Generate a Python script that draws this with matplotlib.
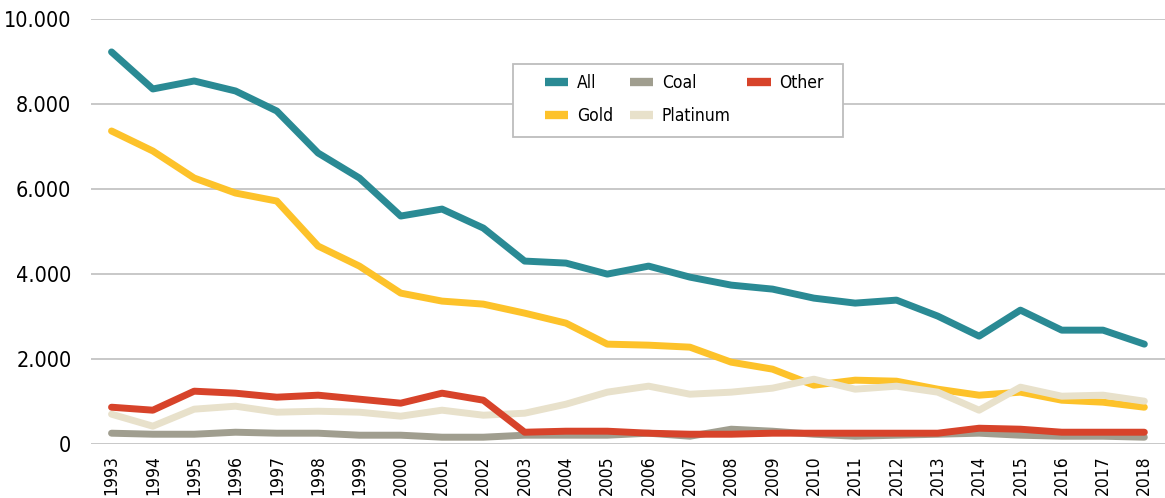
import matplotlib
matplotlib.use('Agg')
import matplotlib.pyplot as plt
from matplotlib.patches import Rectangle
from matplotlib.ticker import FuncFormatter

years = list(range(1993, 2019))

all_mines = [9224, 8353, 8541, 8306, 7835, 6847, 6259, 5365, 5529, 5082,
             4306, 4259, 4000, 4188, 3929, 3741, 3647, 3435, 3318, 3388,
             3012, 2541, 3153, 2682, 2682, 2353]
gold = [7365, 6894, 6259, 5906, 5718, 4659, 4188, 3553, 3365, 3294,
        3082, 2847, 2353, 2329, 2282, 1929, 1765, 1388, 1506, 1482,
        1294, 1153, 1224, 1035, 988, 870]
coal = [259, 235, 235, 282, 259, 259, 212, 212, 165, 165,
        212, 212, 212, 259, 188, 353, 306, 235, 188, 212,
        235, 259, 212, 188, 188, 165]
platinum = [706, 424, 824, 894, 753, 776, 753, 659, 800, 682,
            729, 941, 1224, 1365, 1176, 1224, 1318, 1529, 1294, 1365,
            1224, 800, 1341, 1129, 1153, 1012]
other = [870, 800, 1247, 1200, 1106, 1153, 1059, 965, 1200, 1035,
         282, 306, 306, 259, 235, 235, 259, 259, 259, 259,
         259, 376, 353, 282, 282, 282]

plt.rcParams['font.family'] = ['DejaVu Sans']
plt.rcParams['font.stretch'] = 'condensed'

fig = plt.figure(figsize=(11.65, 4.98), dpi=100)
ax = fig.add_axes([0.078, 0.108, 0.922, 0.854])

x = list(range(len(years)))
lw = 5
h_gold, = ax.plot(x, gold, color='#FDC22A', lw=lw, solid_capstyle='round')
h_coal, = ax.plot(x, coal, color='#A09E8F', lw=lw, solid_capstyle='round')
h_plat, = ax.plot(x, platinum, color='#E8E1CB', lw=lw, solid_capstyle='round')
h_other, = ax.plot(x, other, color='#D7432A', lw=lw, solid_capstyle='round')
h_all, = ax.plot(x, all_mines, color='#2A8A94', lw=lw, solid_capstyle='round')

ax.set_xlim(-0.5, len(years) - 0.5)
ax.set_ylim(0, 10000)
ax.set_yticks(range(0, 10001, 2000))
ax.yaxis.set_major_formatter(FuncFormatter(lambda v, p: f'{int(v):,}'.replace(',', '.')))
ax.set_xticks(x)
ax.set_xticklabels([str(y) for y in years], rotation=90, fontsize=12.5)
ax.tick_params(axis='y', labelsize=15.5, length=0, pad=14)
ax.tick_params(axis='x', length=0, pad=8)
for s in ax.spines.values():
    s.set_visible(False)
ax.grid(axis='y', color='#C4C4C4', lw=1.3)
ax.set_axisbelow(True)

# legend box drawn separately so the inner padding can differ per side
ax.add_patch(Rectangle((0.393, 0.722), 0.307, 0.172, transform=ax.transAxes,
                       facecolor='white', edgecolor='#BDBDBD', lw=1.3, zorder=5))
leg = ax.legend([h_all, h_gold, h_coal, h_plat, h_other],
                ['All', 'Gold', 'Coal', 'Platinum', 'Other'],
                ncol=3, loc='upper left', bbox_to_anchor=(0.4227, 0.87),
                fontsize=12.5, frameon=False, handlelength=1.35,
                handletextpad=0.5, columnspacing=0.95, borderpad=0,
                labelspacing=0.85, borderaxespad=0)
leg.set_zorder(6)
for ln in leg.get_lines():
    ln.set_solid_capstyle('butt')
    ln.set_linewidth(6)

fig.savefig('out.png', dpi=100)
